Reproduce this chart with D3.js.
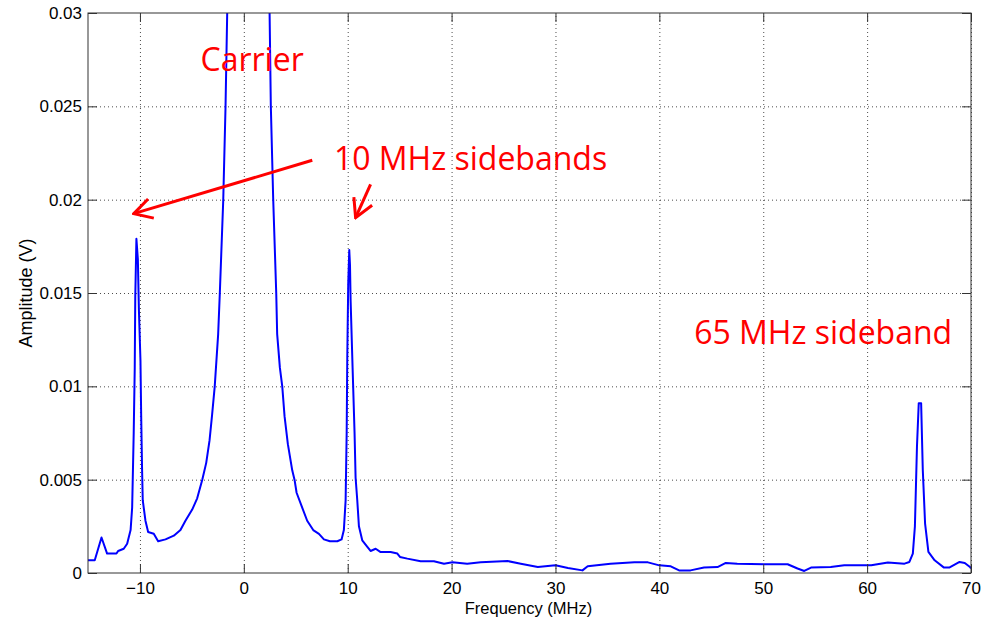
<!DOCTYPE html>
<html>
<head>
<meta charset="utf-8">
<script src="https://cdn.jsdelivr.net/npm/d3@7"></script>
<style>
  body { margin: 0; background: #fff; }
  .tick text { font-family: "Liberation Sans", Arial, sans-serif; font-size: 17px; fill: #000; }
  .grid line { stroke: #000; stroke-opacity: 0.7; stroke-dasharray: 1,3; }
  .grid path { display: none; }
  .annot { font-family: "Open Sans", sans-serif; font-size: 32px; fill: #ff0000; }
</style>
</head>
<body>
<div id="chart"></div>
<script>
// Spectrum: frequency (MHz) and amplitude (V)
const freq = [
  -15.0, -14.35, -13.7, -13.16, -12.26, -12.1, -11.56, -11.23, -10.9, -10.75,
  -10.6, -10.5, -10.45, -10.34, -10.2, -10.1, -9.95, -9.88, -9.8, -9.73,
  -9.47, -9.21, -8.67, -8.25, -7.54, -6.74, -6.1, -5.62, -4.97, -4.49,
  -4.0, -3.62, -3.3, -3.05, -2.8, -2.47, -2.31, -1.98, -1.76, -1.6,
  -1.45, 0.45, 2.35, 2.48, 2.6, 2.83, 3.12, 3.21, 3.47, 3.7,
  3.92, 4.24, 4.66, 4.88, 5.08, 5.62, 6.1, 6.68, 7.23, 7.71,
  8.29, 9.0, 9.41, 9.63, 9.8, 9.9, 9.96, 10.05, 10.15, 10.22,
  10.28, 10.47, 10.66, 10.76, 10.92, 11.08, 11.4, 11.89, 12.2, 12.69,
  13.17, 14.13, 14.78, 15.03, 15.74, 17.02, 18.3, 19.27, 20.08, 21.5,
  22.8, 25.4, 26.66, 28.3, 30.0, 31.2, 32.6, 33.1, 35.3, 37.6,
  38.9, 40.0, 41.1, 41.9, 43.0, 44.3, 45.6, 46.4, 47.5, 50.1,
  52.35, 53.3, 53.95, 54.6, 56.5, 57.8, 59.1, 60.4, 62.0, 63.6,
  64.07, 64.4, 64.6, 64.8, 64.97, 65.2, 65.36, 65.58, 65.9, 66.5,
  67.4, 67.9, 68.9, 69.4, 69.9, 70.0
];
const amp = [
  0.00068, 0.00068, 0.0019, 0.00104, 0.00104, 0.00118, 0.0013, 0.00157, 0.0023, 0.0035,
  0.0075, 0.011, 0.0148, 0.0179, 0.0168, 0.0141, 0.0114, 0.0084, 0.0057, 0.0039,
  0.0028, 0.0022, 0.0021, 0.0017, 0.0018, 0.002, 0.0023, 0.0028, 0.0034, 0.004,
  0.005, 0.0059, 0.0071, 0.0085, 0.01, 0.0128, 0.015, 0.02, 0.025, 0.03,
  0.035, 0.06, 0.035, 0.03, 0.025, 0.02, 0.015, 0.0128, 0.011, 0.01,
  0.0084, 0.0069, 0.0055, 0.005, 0.0043, 0.0035, 0.0028, 0.0023, 0.0021, 0.0018,
  0.0017, 0.0017, 0.0018, 0.0023, 0.0039, 0.0075, 0.0116, 0.0155, 0.0173, 0.0165,
  0.0146, 0.011, 0.0075, 0.0051, 0.0039, 0.0025, 0.00175, 0.0014, 0.00118, 0.0013,
  0.00112, 0.00112, 0.00104, 0.00086, 0.00077, 0.00063, 0.00063, 0.0005, 0.00057, 0.0005,
  0.00057, 0.00064, 0.0005, 0.00032, 0.00041, 0.00027, 0.00014, 0.00036, 0.0005, 0.00057,
  0.00057, 0.00041, 0.00036, 0.00014, 0.00014, 0.00029, 0.00032, 0.00054, 0.0005, 0.00047,
  0.00047, 0.00024, 0.00011, 0.00029, 0.00032, 0.00041, 0.00041, 0.00041, 0.00056, 0.0005,
  0.00059, 0.00104, 0.0025, 0.0068, 0.0091, 0.0091, 0.0055, 0.00265, 0.00113, 0.00068,
  0.00029, 0.00029, 0.00059, 0.00054, 0.00032, 0.00024
];

// Axis ticks
const xTicks = [-10, 0, 10, 20, 30, 40, 50, 60, 70];
const yTicks = [0, 0.005, 0.01, 0.015, 0.02, 0.025, 0.03];

// Annotation texts with their anchor in data units [freq, amp]
const labels = [
  { text: "Carrier", at: [-4.17, 0.0269] },
  { text: "10 MHz sidebands", at: [8.67, 0.02157] },
  { text: "65 MHz sideband", at: [43.35, 0.01229] }
];
// Arrows: from -> to, in data units
const arrows = [
  { from: [6.59, 0.02211], to: [-10.6, 0.01925] },
  { from: [12.2, 0.02082], to: [10.76, 0.01904] }
];

const svgWidth = 988;
const svgHeight = 620;
const margin = { top: 13, right: 17, bottom: 47, left: 88 };
const width = svgWidth - margin.left - margin.right;
const height = svgHeight - margin.top - margin.bottom;

const svg = d3.select("#chart").append("svg")
  .attr("width", svgWidth)
  .attr("height", svgHeight);

const g = svg.append("g")
  .attr("transform", `translate(${margin.left},${margin.top})`);

const x = d3.scaleLinear().domain([-15, 70]).range([0, width]);
const y = d3.scaleLinear().domain([0, 0.03]).range([height, 0]);

// dotted grid
g.append("g").attr("class", "grid")
  .attr("transform", `translate(0,${height})`)
  .call(d3.axisBottom(x).tickValues(xTicks).tickSize(-height).tickFormat(""));
g.append("g").attr("class", "grid")
  .call(d3.axisLeft(y).tickValues(yTicks.slice(1, -1)).tickSize(-width).tickFormat(""));

// clipped spectrum line
g.append("clipPath").attr("id", "plotClip")
  .append("rect").attr("width", width).attr("height", height);

const points = d3.zip(freq, amp);
const line = d3.line().x(d => x(d[0])).y(d => y(d[1]));

g.append("path")
  .datum(points)
  .attr("clip-path", "url(#plotClip)")
  .attr("fill", "none")
  .attr("stroke", "#0000ff")
  .attr("stroke-width", 2)
  .attr("stroke-linejoin", "round")
  .attr("d", line);

// axes with inward ticks on all four sides
const axisColor = "#333";
const fmt = d => String(+d.toFixed(3));

const styleAxis = sel => {
  sel.select(".domain").remove();
  sel.selectAll(".tick line").attr("stroke", axisColor);
};

g.append("g")
  .attr("transform", `translate(0,${height})`)
  .call(d3.axisBottom(x).tickValues(xTicks).tickSizeInner(-9).tickSizeOuter(0).tickPadding(9))
  .call(styleAxis);
g.append("g")
  .call(d3.axisLeft(y).tickValues(yTicks).tickFormat(fmt).tickSizeInner(-9).tickSizeOuter(0).tickPadding(6))
  .call(styleAxis);
g.append("g")
  .call(d3.axisTop(x).tickValues(xTicks).tickFormat("").tickSizeInner(-9).tickSizeOuter(0))
  .call(styleAxis);
g.append("g")
  .attr("transform", `translate(${width},0)`)
  .call(d3.axisRight(y).tickValues(yTicks).tickFormat("").tickSizeInner(-9).tickSizeOuter(0))
  .call(styleAxis);

g.append("rect")
  .attr("width", width)
  .attr("height", height)
  .attr("fill", "none")
  .attr("stroke", axisColor)
  .attr("stroke-width", 1);

// axis titles
g.append("text")
  .attr("x", x(27.4))
  .attr("y", height + 41)
  .attr("text-anchor", "middle")
  .attr("font-family", "Liberation Sans, Arial, sans-serif")
  .attr("font-size", "16.5px")
  .text("Frequency (MHz)");

g.append("text")
  .attr("transform", "rotate(-90)")
  .attr("x", -height / 2)
  .attr("y", -56)
  .attr("text-anchor", "middle")
  .attr("font-family", "Liberation Sans, Arial, sans-serif")
  .attr("font-size", "18px")
  .text("Amplitude (V)");

// red annotations
svg.append("defs").append("marker")
  .attr("id", "head")
  .attr("viewBox", "0 0 24 24")
  .attr("refX", 22)
  .attr("refY", 12)
  .attr("markerWidth", 24)
  .attr("markerHeight", 24)
  .attr("markerUnits", "userSpaceOnUse")
  .attr("orient", "auto")
  .append("path")
  .attr("d", "M4,2 L22,12 L4,22")
  .attr("fill", "none")
  .attr("stroke", "#ff0000")
  .attr("stroke-width", 3);

g.selectAll(".arrow")
  .data(arrows)
  .enter()
  .append("line")
  .attr("class", "arrow")
  .attr("x1", d => x(d.from[0]))
  .attr("y1", d => y(d.from[1]))
  .attr("x2", d => x(d.to[0]))
  .attr("y2", d => y(d.to[1]))
  .attr("stroke", "#ff0000")
  .attr("stroke-width", 3)
  .attr("marker-end", "url(#head)");

g.selectAll(".annot")
  .data(labels)
  .enter()
  .append("text")
  .attr("class", "annot")
  .attr("x", d => x(d.at[0]))
  .attr("y", d => y(d.at[1]))
  .text(d => d.text);
</script>
</body>
</html>
